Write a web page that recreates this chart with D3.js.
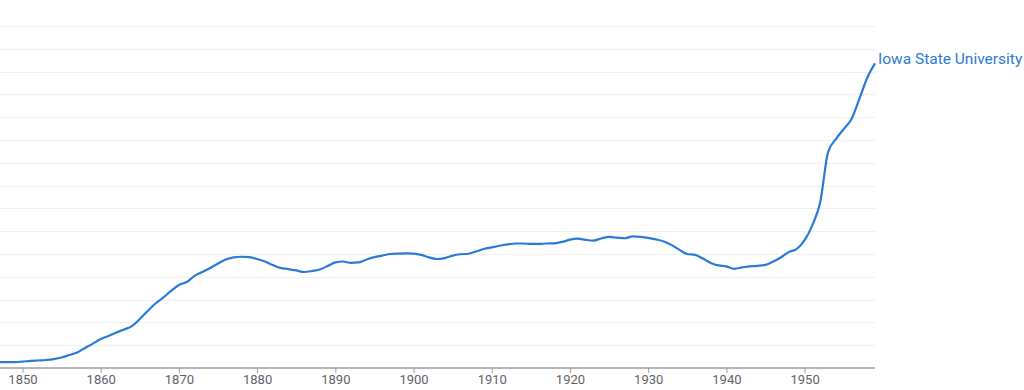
<!DOCTYPE html>
<html>
<head>
<meta charset="utf-8">
<script src="https://cdn.jsdelivr.net/npm/d3@7"></script>
<style>
  html, body { margin: 0; padding: 0; background: #fff; }
  svg { display: block; }
</style>
</head>
<body>
<svg id="chart" width="1024" height="390"></svg>
<script>
const seriesName = "Iowa State University";
const years = d3.range(1847, 1960);
const values = [
  0.26, 0.26, 0.26, 0.28, 0.31, 0.33, 0.35, 0.39, 0.46, 0.57,
  0.68, 0.88, 1.07, 1.27, 1.40, 1.56, 1.69, 1.84, 2.15, 2.50,
  2.83, 3.09, 3.38, 3.64, 3.77, 4.04, 4.21, 4.39, 4.58, 4.76,
  4.85, 4.88, 4.86, 4.78, 4.67, 4.52, 4.39, 4.34, 4.28, 4.21,
  4.25, 4.32, 4.47, 4.63, 4.67, 4.61, 4.63, 4.76, 4.86, 4.93,
  5.00, 5.02, 5.03, 5.02, 4.96, 4.85, 4.78, 4.82, 4.93, 4.99,
  5.01, 5.11, 5.22, 5.29, 5.36, 5.42, 5.46, 5.46, 5.44, 5.44,
  5.46, 5.47, 5.53, 5.63, 5.67, 5.62, 5.59, 5.68, 5.75, 5.72,
  5.69, 5.77, 5.75, 5.71, 5.64, 5.55, 5.39, 5.18, 5.00, 4.96,
  4.80, 4.61, 4.50, 4.46, 4.35, 4.41, 4.46, 4.48, 4.52, 4.67,
  4.86, 5.09, 5.22, 5.61, 6.27, 7.28, 9.47, 10.04, 10.48, 10.92,
  11.80, 12.72, 13.36
];
const tickYears = [1850, 1860, 1870, 1880, 1890, 1900, 1910, 1920, 1930, 1940, 1950];
const gridValues = d3.range(1, 16);

const data = years.map((y, i) => ({ year: y, value: values[i] }));

const svg = d3.select("#chart");
const x = d3.scaleLinear().domain([1847, 1959]).range([-1, 875]);
const y = d3.scaleLinear().domain([0, 15]).range([368, 26]);

// gridlines
svg.append("g").selectAll("line").data(gridValues).join("line")
  .attr("x1", 0).attr("x2", 875)
  .attr("y1", d => Math.round(y(d)) + 0.5).attr("y2", d => Math.round(y(d)) + 0.5)
  .attr("stroke", "#efefef").attr("stroke-width", 1);

// x axis
const axis = d3.axisBottom(x).tickValues(tickYears).tickFormat(d3.format("d")).tickSize(5).tickSizeOuter(0);
const gx = svg.append("g").attr("transform", "translate(0,368)").call(axis);
gx.select(".domain").attr("stroke", "#9e9e9e").attr("stroke-width", 1.5)
  .attr("d", "M0,0H875");
gx.selectAll(".tick line").attr("stroke", "#9e9e9e");
gx.selectAll(".tick text").attr("fill", "#5f6368")
  .style("font-family", "Roboto, sans-serif").style("font-size", "13px").attr("dy", "0.6em");

// line
const line = d3.line().x(d => x(d.year)).y(d => y(d.value)).curve(d3.curveMonotoneX);
svg.append("path").datum(data)
  .attr("fill", "none").attr("stroke", "#2a7bd5").attr("stroke-width", 2.2)
  .attr("stroke-linejoin", "round").attr("d", line);

// label
const last = data[data.length - 1];
svg.append("text")
  .attr("x", x(last.year) + 3).attr("y", y(last.value) - 5)
  .attr("dy", "0.35em")
  .attr("fill", "#2a7bd5")
  .style("font-family", "Roboto, sans-serif").style("font-size", "15.5px")
  .text(seriesName);
</script>
</body>
</html>
